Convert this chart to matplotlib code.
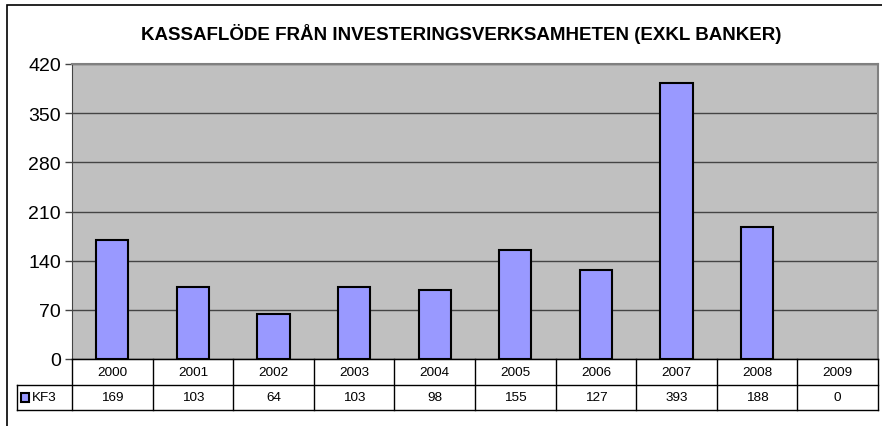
import matplotlib
matplotlib.use("Agg")
import matplotlib.pyplot as plt
from matplotlib.patches import Rectangle

plt.rcParams['font.family'] = ['Liberation Sans', 'DejaVu Sans']

years = ["2000", "2001", "2002", "2003", "2004", "2005", "2006", "2007", "2008", "2009"]
kf3 = [169, 103, 64, 103, 98, 155, 127, 393, 188, 0]
series_name = "KF3"
yticks = [0, 70, 140, 210, 280, 350, 420]
title = "KASSAFLÖDE FRÅN INVESTERINGSVERKSAMHETEN (EXKL BANKER)"

W, H = 882, 427
fig = plt.figure(figsize=(W / 100, H / 100), dpi=100)
fig.patch.set_facecolor('white')

def fx(px):
    return px / W

def fy(py):
    return 1 - py / H

# outer frame (only left and top edges visible)
fig.add_artist(Rectangle((fx(7), fy(440)), fx(900) - fx(7), fy(6) - fy(440),
                         transform=fig.transFigure, fill=False, ec='black', lw=1.2))

left, right, top, bottom = 72, 878, 65, 360
ax = fig.add_axes([fx(left), fy(bottom), fx(right) - fx(left), fy(top) - fy(bottom)])
ax.set_facecolor('#C0C0C0')
x = list(range(len(years)))
lws = [1.5 if v > 0 else 0 for v in kf3]
ax.bar(x, kf3, width=0.4, color='#9999FF', edgecolor='black', linewidth=lws, zorder=3)
ax.set_xlim(-0.5, len(years) - 0.5)
ax.set_ylim(0, 420)
ax.set_yticks(yticks)
ax.set_yticklabels([str(v) for v in yticks], fontsize=14)
ax.yaxis.grid(True, color='#444444', lw=1, zorder=1)
ax.set_xticks([])
ax.tick_params(axis='y', length=5, width=1, color='#444444', pad=3)
for s in ['top', 'right']:
    ax.spines[s].set_color('#808080')
    ax.spines[s].set_linewidth(1.5)
ax.spines['left'].set_color('#444444')
ax.spines['bottom'].set_color('#444444')

fig.text(fx(461), fy(34), title, ha='center', va='center', fontsize=13.5, fontweight='bold')

# data table
cat_px = (right - left) / len(years)
tleft = 17
tx0 = -0.5 - (left - tleft) / cat_px
tab = fig.add_axes([fx(tleft), fy(411), fx(right) - fx(tleft), fy(360) - fy(411)])
tab.set_xlim(tx0, len(years) - 0.5)
tab.set_ylim(0, 2)
tab.axis('off')
lc = 'black'
tab.plot([-0.5, len(years) - 0.5], [2, 2], color=lc, lw=1, clip_on=False)
tab.plot([tx0, len(years) - 0.5], [1, 1], color=lc, lw=1, clip_on=False)
tab.plot([tx0, len(years) - 0.5], [0, 0], color=lc, lw=1, clip_on=False)
tab.plot([tx0, tx0], [0, 1], color=lc, lw=1, clip_on=False)
for i in range(len(years) + 1):
    tab.plot([i - 0.5, i - 0.5], [0, 2], color=lc, lw=1, clip_on=False)
for i, (yr, v) in enumerate(zip(years, kf3)):
    tab.text(i, 1.5, yr, ha='center', va='center', fontsize=9.7)
    tab.text(i, 0.5, str(v), ha='center', va='center', fontsize=9.7)
tab.add_patch(Rectangle((tx0 + 0.05, 0.32), 0.1, 0.36, fc='#9999FF', ec='black', lw=1.5, clip_on=False))
tab.text(tx0 + 0.18, 0.5, series_name, ha='left', va='center', fontsize=9.7)

fig.savefig('out.png', dpi=100)
